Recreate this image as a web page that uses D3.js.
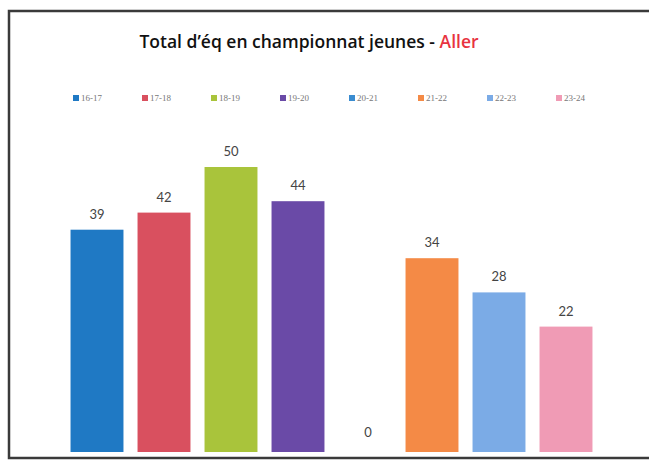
<!DOCTYPE html>
<html>
<head>
<meta charset="utf-8">
<script src="https://cdn.jsdelivr.net/npm/d3@7"></script>
<style>
  body { margin: 0; background: #fff; }
  svg { display: block; }
</style>
</head>
<body>
<div id="graph"></div>
<script>
// saisons et nombre d'equipes (aller)
var seasons = ["16-17", "17-18", "18-19", "19-20", "20-21", "21-22", "22-23", "23-24"]
var teams = [39, 42, 50, 44, 0, 34, 28, 22]
var colors = ["#1f79c4", "#d9505f", "#a9c43b", "#6a4aa7", "#3a8cd0", "#f48a46", "#7babe6", "#f09bb5"]

var W = 649, H = 469

var svg = d3.select("#graph").append("svg")
            .attr("width", W)
            .attr("height", H)

// cadre
svg.append("rect")
   .attr("x", 9).attr("y", 11)
   .attr("width", W + 10).attr("height", 447)
   .attr("fill", "#fff")
   .attr("stroke", "#3a3a3a")
   .attr("stroke-width", 2.5)

// titre
var title = svg.append("text")
   .attr("x", 309).attr("y", 48)
   .attr("text-anchor", "middle")
   .attr("font-family", "Open Sans, sans-serif")
   .attr("font-weight", 600)
   .attr("font-size", 17.5)
   .attr("fill", "#111")
title.append("tspan").text("Total d\u2019\u00e9q en championnat jeunes - ")
title.append("tspan").attr("fill", "#e8333f").text("Aller")

// echelles
var x = d3.scaleBand()
          .domain(seasons)
          .range([63.5, 599.5])
          .paddingInner(0.21)
          .paddingOuter(0.105)
var y = d3.scaleLinear()
          .domain([0, 50])
          .range([452, 167])

// legende
var xLeg = d3.scalePoint().domain(seasons).range([73, 556])
var leg = svg.append("g").selectAll("g")
   .data(seasons)
   .enter().append("g")
   .attr("transform", function(d) { return "translate(" + xLeg(d) + ",98)" })
leg.append("rect")
   .attr("x", 0).attr("y", -3)
   .attr("width", 6).attr("height", 6)
   .attr("fill", function(d, i) { return colors[i] })
leg.append("text")
   .attr("x", 8).attr("y", 3)
   .attr("font-family", "Liberation Serif, serif")
   .attr("font-size", 9)
   .attr("fill", "#777")
   .text(function(d) { return d })

// barres
svg.append("g").selectAll("rect")
   .data(teams)
   .enter().append("rect")
   .attr("x", function(d, i) { return x(seasons[i]) })
   .attr("y", function(d) { return y(d) })
   .attr("width", x.bandwidth())
   .attr("height", function(d) { return y(0) - y(d) })
   .attr("fill", function(d, i) { return colors[i] })

// etiquettes
svg.append("g").selectAll("text")
   .data(teams)
   .enter().append("text")
   .attr("x", function(d, i) { return x(seasons[i]) + x.bandwidth() / 2 + (d === 0 ? 3 : 0) })
   .attr("y", function(d) { return y(d) - (d === 0 ? 15 : 11) })
   .attr("text-anchor", "middle")
   .attr("font-family", "Lato, sans-serif")
   .attr("font-size", 13)
   .attr("fill", "#444")
   .text(function(d) { return d })
</script>
</body>
</html>
